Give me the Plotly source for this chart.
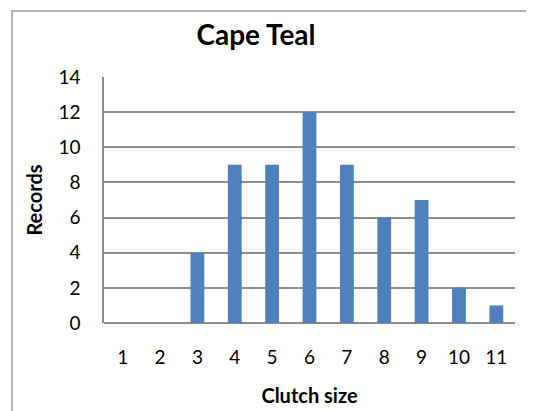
import plotly.graph_objects as go

categories = ["1", "2", "3", "4", "5", "6", "7", "8", "9", "10", "11"]
records = [0, 0, 4, 9, 9, 12, 9, 6, 7, 2, 1]
y_ticks = [0, 2, 4, 6, 8, 10, 12, 14]

# page body has an 8px margin; the figure is sized to reach the window edges
W, H = 526, 403
L, R, T, B = 96, 19, 69, 88
pw, ph = W - L - R, H - T - B

FONT = "Lato, 'Open Sans', sans-serif"
GRID = "#8c8c8c"

fig = go.Figure(go.Bar(x=categories, y=records, marker_color="#4F81BD",
                       marker_line_width=0, width=0.37))

fig.update_layout(
    width=W, height=H,
    margin=dict(l=L, r=R, t=T, b=B),
    paper_bgcolor="white", plot_bgcolor="white",
    showlegend=False,
    font=dict(family=FONT, color="black", size=19),
    title=dict(text="<b>Cape Teal</b>", x=248 / W, xanchor="center",
               y=1 - 27 / H, yanchor="middle", font=dict(size=28)),
    shapes=[dict(type="rect", xref="paper", yref="paper",
                 x0=(4 - L) / pw, x1=3.0,
                 y0=-3.0, y1=(T + ph - 3) / ph,
                 line=dict(color="#9a9a9a", width=1.5), fillcolor="rgba(0,0,0,0)",
                 layer="below")],
)
fig.update_xaxes(type="category", showgrid=False, showline=False, ticks="",
                 automargin=False,
                 ticklabelstandoff=21, tickfont=dict(size=19),
                 title=dict(text="<b>Clutch size</b>", standoff=21, font=dict(size=20)))
fig.update_yaxes(range=[0, 14], tickvals=y_ticks, showgrid=True, gridcolor=GRID,
                 gridwidth=1.5, showline=True, linecolor=GRID, linewidth=1.5,
                 zeroline=True, zerolinecolor=GRID, zerolinewidth=1.5, ticks="",
                 automargin=False,
                 ticklabelstandoff=18, tickfont=dict(size=19),
                 title=dict(text="<b>Records</b>", standoff=10, font=dict(size=20)))

fig.write_html("out.html")
